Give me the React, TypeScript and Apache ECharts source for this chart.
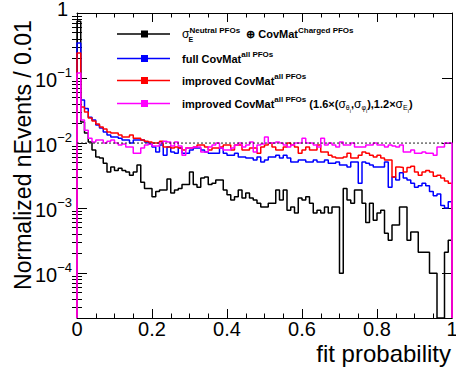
import React, { useEffect, useRef } from "react";
import * as echarts from "echarts";

// Histogram binning and axis ranges (y is drawn on a log10 scale)
const BIN_WIDTH = 0.01;
const Y_LOG_MIN = -4.69;
const Y_LOG_MAX = 0;
const REFERENCE_LEVEL = 0.01;
const X_TICK_STEP = 0.2;
const Y_DECADES = [-4, -3, -2, -1, 0];

// Bin contents, 100 bins of width 0.01 on [0, 1]
const sigmaECovMat = [
  0.75, 0.021, 0.0143, 0.0104, 0.0078, 0.0061, 0.0059, 0.0049, 0.0036, 0.0043,
  0.0038, 0.0041, 0.0038, 0.0036, 0.0032, 0.0036, 0.0046, 0.0025, 0.002, 0.002,
  0.0015, 0.0018, 0.0019, 0.0019, 0.0028, 0.0017, 0.0019, 0.002, 0.0023, 0.0023,
  0.0036, 0.0023, 0.0021, 0.0029, 0.003, 0.0023, 0.0024, 0.0027, 0.0027, 0.0019,
  0.0016, 0.00133, 0.0015, 0.0019, 0.00143, 0.0017, 0.00143, 0.00133, 0.00119, 0.00104,
  0.00104, 0.00119, 0.00119, 0.0019, 0.00133, 0.0019, 0.00093, 0.00104, 0.00084, 0.00143,
  0.00133, 0.0015, 0.00119, 0.00084, 0.00093, 0.00084, 0.00104, 0.00084, 0.00104, 0.00104,
  0.0001, 0.002, 0.00133, 0.00119, 0.0019, 0.0019, 0.00119, 0.0006, 0.00119, 0.00065,
  0.00084, 0.00093, 0.00041, 0.00032, 0.00055, 0.00055, 0.00104, 0.00104, 0.00032, 0.00043,
  0.00043, 0.00021, 0.00021, 0.00021, 0.0001, 0.0001, 0, 0, 0.00021, 0.00032,
];

const fullCovMat = [
  0.345, 0.046, 0.034, 0.025, 0.0226, 0.0189, 0.017, 0.0148, 0.0133, 0.0124,
  0.0124, 0.0119, 0.0111, 0.0111, 0.01, 0.0111, 0.0111, 0.0111, 0.0104, 0.0097,
  0.0087, 0.0073, 0.0093, 0.0065, 0.0087, 0.0073, 0.007, 0.0084, 0.007, 0.007,
  0.0078, 0.0084, 0.0084, 0.0078, 0.0073, 0.007, 0.007, 0.007, 0.0084, 0.007,
  0.0065, 0.0065, 0.007, 0.0061, 0.0061, 0.0059, 0.0059, 0.0055, 0.0061, 0.0051,
  0.0055, 0.0061, 0.0061, 0.0065, 0.0059, 0.0065, 0.0059, 0.0051, 0.0051, 0.0055,
  0.0055, 0.0051, 0.0051, 0.0055, 0.0051, 0.0051, 0.0055, 0.0049, 0.0049, 0.0051,
  0.0046, 0.0046, 0.0043, 0.0051, 0.0051, 0.0024, 0.0051, 0.0049, 0.0046, 0.0043,
  0.0043, 0.0043, 0.0051, 0.0021, 0.003, 0.0027, 0.0035, 0.0029, 0.0027, 0.0024,
  0.0021, 0.0022, 0.0024, 0.0022, 0.0018, 0.00155, 0.00165, 0.0011, 0.001, 0.00125,
];

const improvedCovMat = [
  0.243, 0.0358, 0.03, 0.0243, 0.0218, 0.0196, 0.0176, 0.0164, 0.0148, 0.0143,
  0.0143, 0.0133, 0.0124, 0.0124, 0.0133, 0.0119, 0.0119, 0.0111, 0.0107, 0.0104,
  0.01, 0.01, 0.0107, 0.0087, 0.0087, 0.0084, 0.0087, 0.0084, 0.0078, 0.0084,
  0.0084, 0.0087, 0.0093, 0.0093, 0.0087, 0.0078, 0.0084, 0.0084, 0.0087, 0.0093,
  0.0093, 0.0078, 0.0093, 0.0093, 0.0078, 0.0078, 0.0084, 0.0084, 0.007, 0.0087,
  0.0093, 0.01, 0.0087, 0.0078, 0.0078, 0.0087, 0.01, 0.0093, 0.0087, 0.007,
  0.0078, 0.0087, 0.0078, 0.0078, 0.0093, 0.0073, 0.0073, 0.0065, 0.0061, 0.0059,
  0.0059, 0.0061, 0.007, 0.0059, 0.0059, 0.0065, 0.0073, 0.007, 0.0065, 0.0061,
  0.0065, 0.0059, 0.0055, 0.0055, 0.003, 0.0043, 0.0042, 0.0036, 0.0042, 0.0044,
  0.0036, 0.0032, 0.0036, 0.0038, 0.0036, 0.0031, 0.0032, 0.0029, 0.0026, 0.0024,
];

const improvedScaled = [
  0.119, 0.0226, 0.0158, 0.0119, 0.0104, 0.0111, 0.0111, 0.01, 0.0107, 0.0111,
  0.01, 0.0093, 0.0097, 0.0087, 0.0087, 0.007, 0.007, 0.0084, 0.0093, 0.0097,
  0.009, 0.009, 0.01, 0.0107, 0.0104, 0.009, 0.0104, 0.009, 0.0065, 0.0084,
  0.0084, 0.0087, 0.0087, 0.0073, 0.0073, 0.0087, 0.0093, 0.01, 0.0084, 0.0078,
  0.0078, 0.0084, 0.0093, 0.01, 0.0087, 0.0093, 0.0104, 0.0073, 0.0093, 0.0097,
  0.0124, 0.01, 0.01, 0.0104, 0.01, 0.0093, 0.0087, 0.0093, 0.01, 0.01,
  0.0119, 0.01, 0.01, 0.0093, 0.0087, 0.0119, 0.0093, 0.01, 0.0093, 0.0087,
  0.0104, 0.0093, 0.0093, 0.01, 0.0087, 0.0087, 0.0087, 0.0093, 0.0093, 0.01,
  0.0093, 0.0093, 0.0087, 0.0093, 0.009, 0.0087, 0.0093, 0.0073, 0.0073, 0.0078,
  0.007, 0.007, 0.0073, 0.007, 0.007, 0.0065, 0.0087, 0.0087, 0.01, 0.01,
];

const HISTOGRAMS = [
  { name: "sigmaE_CovMat", values: sigmaECovMat, color: "#000000" },
  { name: "fullCovMat", values: fullCovMat, color: "#0000ff" },
  { name: "improvedCovMat", values: improvedCovMat, color: "#ff0000" },
  { name: "improvedScaled", values: improvedScaled, color: "#ff00ff" },
];

const FONT = "'Liberation Sans', Arial, Helvetica, sans-serif";

const toLog = (v: number) => (v > 0 ? Math.max(Math.log10(v), Y_LOG_MIN) : Y_LOG_MIN);

// Step outline of a histogram, closed down to the frame at both ends
function histogramOutline(values: number[]) {
  const pts: number[][] = [[0, Y_LOG_MIN]];
  values.forEach((v, i) => pts.push([+(i * BIN_WIDTH).toFixed(4), toLog(v)]));
  const xEnd = +(values.length * BIN_WIDTH).toFixed(4);
  pts.push([xEnd, toLog(values[values.length - 1])]);
  pts.push([xEnd, Y_LOG_MIN]);
  return pts;
}

// Minor ticks at 2..9 x 10^n on the log axis
const minorLogTicks: number[] = [];
for (let n = -5; n < 0; n++) {
  for (let k = 2; k <= 9; k++) {
    const t = n + Math.log10(k);
    if (t > Y_LOG_MIN && t < Y_LOG_MAX) minorLogTicks.push(t);
  }
}

const LEGEND_ROWS = [
  { color: "#000000", y: 34 },
  { color: "#0000ff", y: 58.5 },
  { color: "#ff0000", y: 80.5 },
  { color: "#ff00ff", y: 103.5 },
];

export default function App() {
  const ref = useRef<HTMLDivElement>(null);

  useEffect(() => {
    if (!ref.current) return;
    const chart = echarts.init(ref.current, undefined, { renderer: "svg" });

    const black = "#000";
    const tickStyle = { color: black, width: 1 };

    const xCommon = {
      type: "value",
      min: 0,
      max: 1,
      interval: X_TICK_STEP,
      splitLine: { show: false },
      axisLine: { show: true, onZero: false, lineStyle: tickStyle },
      axisTick: { show: true, inside: true, length: 9, lineStyle: tickStyle },
      minorTick: { show: true, splitNumber: 4, length: 4.5, lineStyle: tickStyle },
    };

    const yCommon = {
      type: "value",
      min: Y_LOG_MIN,
      max: Y_LOG_MAX,
      splitLine: { show: false },
    };

    const yMajor = (position: string, labels: boolean) => ({
      ...yCommon,
      position,
      axisLine: { show: true, onZero: false, lineStyle: tickStyle },
      axisTick: { show: true, inside: true, length: 10, customValues: Y_DECADES, lineStyle: tickStyle },
      axisLabel: labels
        ? {
            show: true,
            customValues: Y_DECADES,
            margin: 5,
            formatter: (v: number) => {
              const n = Math.round(v);
              if (n === 0) return "{one|1}";
              return `{base|10}{exp|${n < 0 ? "\u2212" : ""}${Math.abs(n)}}`;
            },
            rich: {
              one: { fontFamily: FONT, fontSize: 20, color: black, padding: [0, 4, 9, 0] },
              base: { fontFamily: FONT, fontSize: 20, color: black, padding: [4, 0, 0, 0] },
              exp: { fontFamily: FONT, fontSize: 13, color: black, padding: [0, 0, 11, 0] },
            },
          }
        : { show: false },
    });

    const yMinor = (position: string) => ({
      ...yCommon,
      position,
      axisLine: { show: false },
      axisTick: { show: true, inside: true, length: 5, customValues: minorLogTicks, lineStyle: tickStyle },
      axisLabel: { show: false },
    });

    const series: any[] = HISTOGRAMS.map((h) => ({
      name: h.name,
      type: "line",
      step: "end",
      data: histogramOutline(h.values),
      showSymbol: false,
      symbol: "none",
      clip: true,
      silent: true,
      lineStyle: { color: h.color, width: 1.5 },
      xAxisIndex: 0,
      yAxisIndex: 0,
    }));

    series.push({
      name: "reference",
      type: "line",
      data: [
        [0, Math.log10(REFERENCE_LEVEL)],
        [1, Math.log10(REFERENCE_LEVEL)],
      ],
      showSymbol: false,
      symbol: "none",
      silent: true,
      lineStyle: { color: "#222", width: 1, type: [2, 2] },
      xAxisIndex: 0,
      yAxisIndex: 0,
    });

    const rich = {
      b: { fontFamily: FONT, fontWeight: "bold", fontSize: 11, fill: black },
      g: { fontFamily: FONT, fontSize: 12, fill: black },
      sup: { fontFamily: FONT, fontWeight: "bold", fontSize: 8, fill: black, padding: [0, 0, 8, 0] },
      sub: { fontFamily: FONT, fontSize: 7, fill: black, padding: [8, 0, 0, 0] },
      subi: { fontFamily: FONT, fontSize: 5.5, fill: black, padding: [14, 0, 0, 0] },
    };

    const legendTexts = [
      "{g|\u03c3}{sup|Neutral PFOs}{b|  \u2295 CovMat}{sup|Charged PFOs}",
      "{b|full CovMat}{sup|all PFOs}",
      "{b|improved CovMat}{sup|all PFOs}",
      "{b|improved CovMat}{sup|all PFOs}{b| (1.6\u00d7(}{g|\u03c3}{sub|\u03b8}{subi|i}{b|,}{g|\u03c3}{sub|\u03c6}{subi|i}{b|),1.2\u00d7}{g|\u03c3}{sub|E}{subi|i}{b|)}",
    ];

    const graphic: any[] = [];
    LEGEND_ROWS.forEach((row, i) => {
      graphic.push({
        type: "line",
        shape: { x1: 117, y1: row.y, x2: 170, y2: row.y },
        style: { stroke: row.color, lineWidth: 1.5 },
      });
      graphic.push({
        type: "rect",
        shape: { x: 141, y: row.y - 3.5, width: 7, height: 7 },
        style: { fill: row.color },
      });
      graphic.push({
        type: "text",
        x: 182,
        y: row.y,
        style: { text: legendTexts[i], rich, align: "left", verticalAlign: "middle" },
      });
    });
    // subscript under the sigma of the first entry
    graphic.push({
      type: "text",
      x: 188.5,
      y: 39.5,
      style: { text: "E", fontFamily: FONT, fontWeight: "bold", fontSize: 7, fill: black, align: "left", verticalAlign: "middle" },
    });
    // axis titles
    graphic.push({
      type: "text",
      x: 23,
      y: 155,
      rotation: Math.PI / 2,
      style: {
        text: "Normalized nEvents / 0.01",
        fontFamily: FONT,
        fontSize: 23,
        fill: black,
        align: "center",
        verticalAlign: "middle",
      },
    });
    graphic.push({
      type: "text",
      x: 451,
      y: 353.5,
      style: {
        text: "fit probability",
        fontFamily: FONT,
        fontSize: 24,
        fill: black,
        align: "right",
        verticalAlign: "middle",
      },
    });

    chart.setOption({
      animation: false,
      backgroundColor: "#ffffff",
      textStyle: { fontFamily: FONT },
      grid: { left: 77, right: 4, top: 13, bottom: 53, containLabel: false, outerBoundsMode: "none" },
      xAxis: [
        {
          ...xCommon,
          position: "bottom",
          axisLabel: { show: true, margin: 1, fontSize: 20, color: black, fontFamily: FONT },
        },
        { ...xCommon, position: "top", axisLabel: { show: false } },
      ],
      yAxis: [yMajor("left", true), yMinor("left"), yMajor("right", false), yMinor("right")],
      series,
      graphic,
    });

    return () => chart.dispose();
  }, []);

  return (
    <div
      ref={ref}
      style={{ position: "absolute", left: 0, top: 0, width: 456, height: 371, background: "#fff" }}
    />
  );
}
